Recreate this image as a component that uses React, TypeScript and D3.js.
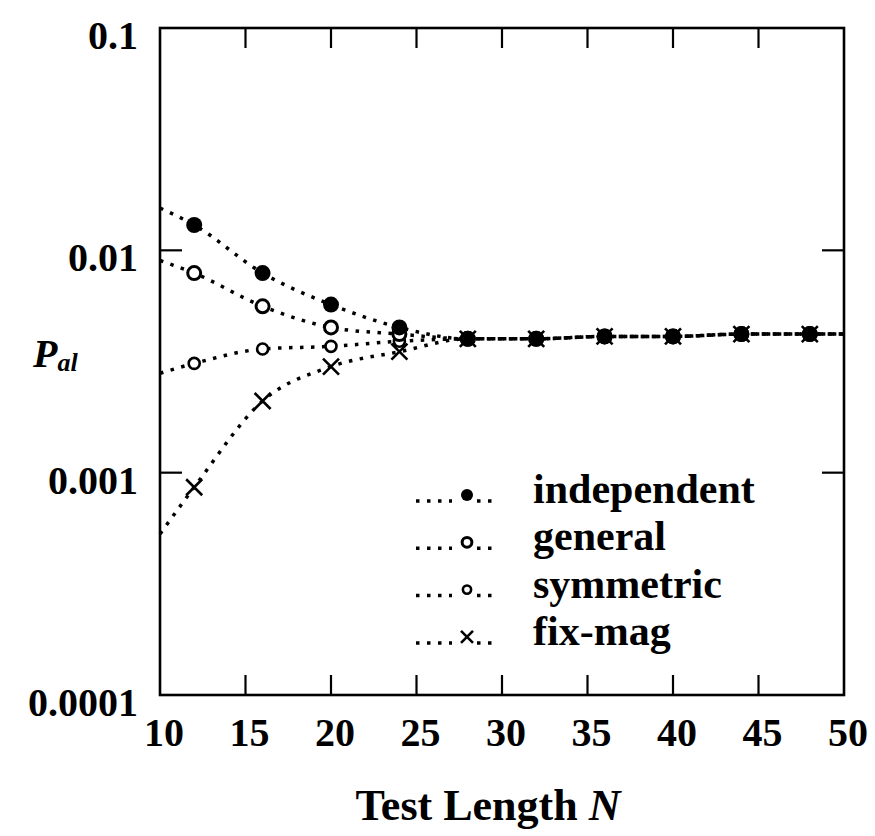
import * as d3 from 'd3'
import React from 'react'

// measured points, test length N
const testLengths = [12, 16, 20, 24, 28, 32, 36, 40, 44, 48]
const independent = [0.013, 0.0079, 0.0057, 0.0045, 0.004, 0.004, 0.0041, 0.0041, 0.0042, 0.0042]
const general = [0.0079, 0.0056, 0.0045, 0.0042, 0.004, 0.004, 0.0041, 0.0041, 0.0042, 0.0042]
const symmetric = [0.0031, 0.0036, 0.0037, 0.0039, 0.004, 0.004, 0.0041, 0.0041, 0.0042, 0.0042]
const fixMag = [0.00086, 0.0021, 0.003, 0.0035, 0.004, 0.004, 0.0041, 0.0041, 0.0042, 0.0042]

// where the dotted curves meet the frame (N = 10 and N = 50)
const curveStart = { independent: 0.0155, general: 0.009, symmetric: 0.0028, fixMag: 0.00053 }
const curveEnd = { independent: 0.0042, general: 0.0042, symmetric: 0.0042, fixMag: 0.0042 }

const xTicks = [10, 15, 20, 25, 30, 35, 40, 45, 50]
const yTicks = [0.1, 0.01, 0.001, 0.0001]
const yTickLabels = ['0.1', '0.01', '0.001', '0.0001']
const legendLabels = ['independent', 'general', 'symmetric', 'fix-mag']

const W = 875
const H = 836
const left = 160
const right = 844
const top = 28
const bottom = 695
const FONT = '"Liberation Serif", "DejaVu Serif", serif'
const DOTS = '3.5 7.5'

type Key = 'independent' | 'general' | 'symmetric' | 'fixMag'

const series: { key: Key; values: number[]; marker: string }[] = [
  { key: 'fixMag', values: fixMag, marker: 'cross' },
  { key: 'symmetric', values: symmetric, marker: 'small' },
  { key: 'general', values: general, marker: 'open' },
  { key: 'independent', values: independent, marker: 'filled' },
]

const Marker = ({ kind, x, y, s = 1 }: { kind: string; x: number; y: number; s?: number }) => {
  if (kind === 'filled') return <circle cx={x} cy={y} r={8 * s} fill="#000" />
  if (kind === 'open')
    return <circle cx={x} cy={y} r={6.5 * s} fill="#fff" stroke="#000" strokeWidth={3} />
  if (kind === 'small')
    return <circle cx={x} cy={y} r={5.5 * s} fill="#fff" stroke="#000" strokeWidth={2.6} />
  const a = 8 * s
  return (
    <path
      d={`M${x - a},${y - a}L${x + a},${y + a}M${x - a},${y + a}L${x + a},${y - a}`}
      stroke="#000"
      strokeWidth={2.6}
    />
  )
}

export default function App() {
  const x = d3.scaleLinear().domain([10, 50]).range([left, right])
  const y = d3.scaleLog().domain([0.0001, 0.1]).range([bottom, top])

  const line = d3
    .line<[number, number]>()
    .x((d) => x(d[0]))
    .y((d) => y(d[1]))
    .curve(d3.curveMonotoneX)

  const legendOrder: { kind: string; label: string }[] = [
    { kind: 'filled', label: legendLabels[0] },
    { kind: 'open', label: legendLabels[1] },
    { kind: 'small', label: legendLabels[2] },
    { kind: 'cross', label: legendLabels[3] },
  ]

  return (
    <svg
      width={W}
      height={H}
      style={{ position: 'absolute', left: 0, top: 0, background: '#fff' }}
      fontFamily={FONT}
      fontWeight="bold"
    >
      <rect x={0} y={0} width={W} height={H} fill="#fff" />

      {/* dotted curves */}
      {series.map((s) => {
        const pts: [number, number][] = [
          [10, curveStart[s.key]],
          ...testLengths.map((n, i) => [n, s.values[i]] as [number, number]),
          [50, curveEnd[s.key]],
        ]
        return (
          <path
            key={s.key}
            d={line(pts) ?? ''}
            fill="none"
            stroke="#000"
            strokeWidth={3.5}
            strokeDasharray={DOTS}
          />
        )
      })}

      {/* markers */}
      {series.map((s) =>
        testLengths.map((n, i) => (
          <Marker key={s.key + n} kind={s.marker} x={x(n)} y={y(s.values[i])} />
        ))
      )}

      {/* frame and ticks */}
      <rect
        x={left}
        y={top}
        width={right - left}
        height={bottom - top}
        fill="none"
        stroke="#000"
        strokeWidth={2.6}
      />
      {xTicks.slice(1, -1).map((t) => (
        <g key={'xt' + t} stroke="#000" strokeWidth={2.2}>
          <line x1={x(t)} x2={x(t)} y1={top} y2={top + 20} />
          <line x1={x(t)} x2={x(t)} y1={bottom} y2={bottom - 20} />
        </g>
      ))}
      {yTicks.slice(1, -1).map((t) => (
        <g key={'yt' + t} stroke="#000" strokeWidth={2.2}>
          <line x1={left} x2={left + 22} y1={y(t)} y2={y(t)} />
          <line x1={right} x2={right - 22} y1={y(t)} y2={y(t)} />
        </g>
      ))}

      {/* tick labels */}
      {xTicks.map((t) => (
        <text key={'xl' + t} x={x(t) + 4} y={bottom + 51} textAnchor="middle" fontSize={40}>
          {t}
        </text>
      ))}
      {yTicks.map((t, i) => (
        <text key={'yl' + t} x={138} y={y(t) + 21} textAnchor="end" fontSize={40}>
          {yTickLabels[i]}
        </text>
      ))}

      {/* axis titles */}
      <text x={488} y={820} textAnchor="middle" fontSize={44}>
        Test Length <tspan fontStyle="italic">N</tspan>
      </text>
      <text x={33} y={367} fontSize={40} fontStyle="italic">
        P<tspan fontSize={26} dy={4}>al</tspan>
      </text>

      {/* legend */}
      {legendOrder.map((e, i) => {
        const by = 503 + i * 47.3
        return (
          <g key={e.label}>
            <line x1={416} x2={452} y1={by - 2} y2={by - 2} stroke="#000" strokeWidth={3.5} strokeDasharray={DOTS} />
            <line x1={477} x2={496} y1={by - 2} y2={by - 2} stroke="#000" strokeWidth={3.5} strokeDasharray={DOTS} />
            <Marker kind={e.kind} x={467} y={by - 8} s={0.75} />
            <text x={533} y={by} fontSize={42}>
              {e.label}
            </text>
          </g>
        )
      })}
    </svg>
  )
}
